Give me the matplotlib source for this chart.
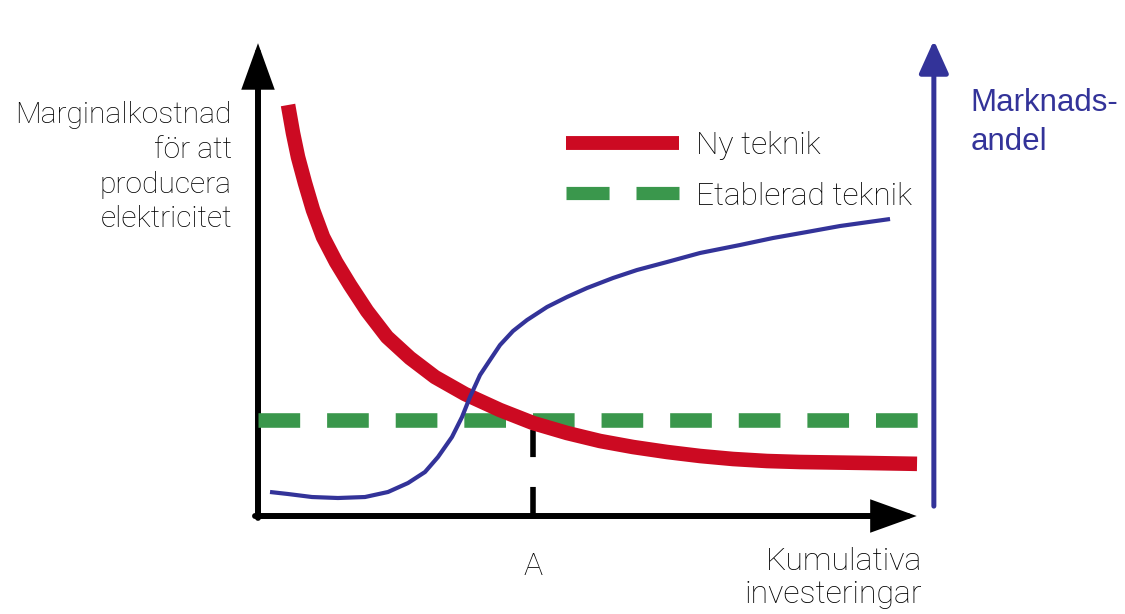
import matplotlib
matplotlib.use("Agg")
import matplotlib.pyplot as plt
from matplotlib.lines import Line2D

plt.rcParams['font.family'] = ['Roboto', 'Liberation Sans', 'DejaVu Sans']
plt.rcParams['lines.scale_dashes'] = False

# ---- data (conceptual units: x = cumulative investment 0..100, y = cost / share 0..100)
new_tech_x = [4.55, 5.30, 6.06, 7.12, 8.33, 9.85, 11.82, 13.94, 16.52, 19.55, 23.03, 26.82, 31.36,
              36.67, 41.67, 46.82, 51.82, 56.82, 61.97, 66.97, 71.97, 77.12, 82.12, 92.27, 99.85]
new_tech_y = [87.45, 81.49, 76.38, 70.85, 65.11, 59.36, 54.04, 49.15, 43.62, 38.09, 33.62, 29.57, 25.96,
              22.55, 19.79, 17.66, 15.96, 14.68, 13.62, 12.77, 12.13, 11.70, 11.49, 11.28, 11.1]

established_x = [0.0, 100.6]
established_y = [20.4, 20.4]

share_x = [1.82, 4.55, 8.18, 12.12, 16.21, 19.70, 22.73, 25.30, 27.27, 29.39, 30.91, 32.12, 33.64,
           35.15, 36.67, 38.64, 40.76, 43.79, 46.82, 49.85, 53.79, 57.42, 61.97, 66.97, 73.03,
           78.03, 83.18, 88.18, 95.76]
share_y = [5.11, 4.68, 4.04, 3.83, 4.04, 5.11, 7.02, 9.36, 12.55, 16.81, 21.06, 25.32, 30.00,
           33.19, 36.38, 39.36, 41.70, 44.47, 46.60, 48.51, 50.64, 52.34, 54.04, 55.96, 57.66,
           59.15, 60.43, 61.70, 63.19]

point_a_x = 41.7
point_a_y = 18.3

ylabel_lines = ["Marginalkostnad", "för att", "producera", "elektricitet"]
xlabel_lines = ["Kumulativa", "investeringar"]
share_label_lines = ["Marknads-", "andel"]
legend_labels = ["Ny teknik", "Etablerad teknik"]
point_label = "A"

RED = '#CC0A22'
GREEN = '#3A974C'
BLUE = '#333399'
TXT = '#000000'
TXT_FAMILY = ['Roboto', 'Liberation Sans', 'DejaVu Sans']
TXT_WEIGHT = 'light'

fig = plt.figure(figsize=(11.25, 6.14), dpi=100)
ax = fig.add_axes([0, 0, 1, 1])
ax.set_xlim(-39.09, 131.36)
ax.set_ylim(-20.85, 109.79)
ax.axis('off')

# axes arrows
arrow_k = dict(arrowstyle='-|>,head_length=1.25,head_width=0.45', lw=4.3,
               color='black', shrinkA=0, shrinkB=0, mutation_scale=20,
               joinstyle='miter')
ax.annotate('', xy=(0, 100.6), xytext=(0, -0.4), arrowprops=arrow_k)
ax.annotate('', xy=(99.8, 0), xytext=(-0.45, 0), arrowprops=arrow_k)
arrow_b = dict(arrowstyle='-|>,head_length=1.0,head_width=0.45', lw=3.6,
               color=BLUE, shrinkA=0, shrinkB=0, mutation_scale=20)
ax.annotate('', xy=(102.4, 101.2), xytext=(102.4, 2.1), arrowprops=arrow_b)

# established technology (dashed green)
ax.plot(established_x, established_y, color=GREEN, lw=10.5, dashes=(30, 19.4),
        solid_capstyle='butt', dash_capstyle='butt', zorder=3)
# new technology (red)
ax.plot(new_tech_x, new_tech_y, color=RED, lw=10.5, solid_capstyle='butt',
        solid_joinstyle='round', zorder=4)
# market share (blue)
ax.plot(share_x, share_y, color=BLUE, lw=3.0, solid_joinstyle='round',
        solid_capstyle='butt', zorder=5)

# dashed drop line at A
ax.plot([point_a_x, point_a_x], [point_a_y, 0], color='black', lw=4,
        dashes=(19.5, 21.5), dash_capstyle='butt', zorder=2)

# texts
fs_y = 21.6
fs = 23
for i, s in enumerate(ylabel_lines):
    ax.text(-3.94, 83.6 - i * 7.4, s, ha='right', va='baseline', fontsize=fs_y,
            color=TXT, family=TXT_FAMILY, fontweight=TXT_WEIGHT)
for i, s in enumerate(share_label_lines):
    ax.text(108.0, 86.2 - i * 8.3, s, ha='left', va='baseline', fontsize=22.5,
            color=BLUE, family=['Liberation Sans', 'DejaVu Sans'])
ax.text(point_a_x, -12.6, point_label, ha='center', va='baseline', fontsize=fs,
        color=TXT, family=TXT_FAMILY, fontweight=TXT_WEIGHT)
ax.text(100.6, -11.5, xlabel_lines[0], ha='right', va='baseline', fontsize=fs,
        color=TXT, family=TXT_FAMILY, fontweight=TXT_WEIGHT)
ax.text(100.6, -18.6, xlabel_lines[1], ha='right', va='baseline', fontsize=fs,
        color=TXT, family=TXT_FAMILY, fontweight=TXT_WEIGHT)

handles = [Line2D([], [], color=RED, lw=10, solid_capstyle='butt'),
           Line2D([], [], color=GREEN, lw=9.5, dashes=(31, 19.4), dash_capstyle='butt')]
leg = ax.legend(handles, legend_labels, loc='upper left',
                bbox_to_anchor=(566 / 1125, 1 - 131 / 614), bbox_transform=fig.transFigure,
                frameon=False, handlelength=3.57, handletextpad=0.52,
                labelspacing=0.68, borderpad=0, borderaxespad=0,
                prop=dict(family=TXT_FAMILY, weight=TXT_WEIGHT, size=22.8))
for t in leg.get_texts():
    t.set_color(TXT)

fig.savefig('out.png', dpi=100, facecolor='white')
